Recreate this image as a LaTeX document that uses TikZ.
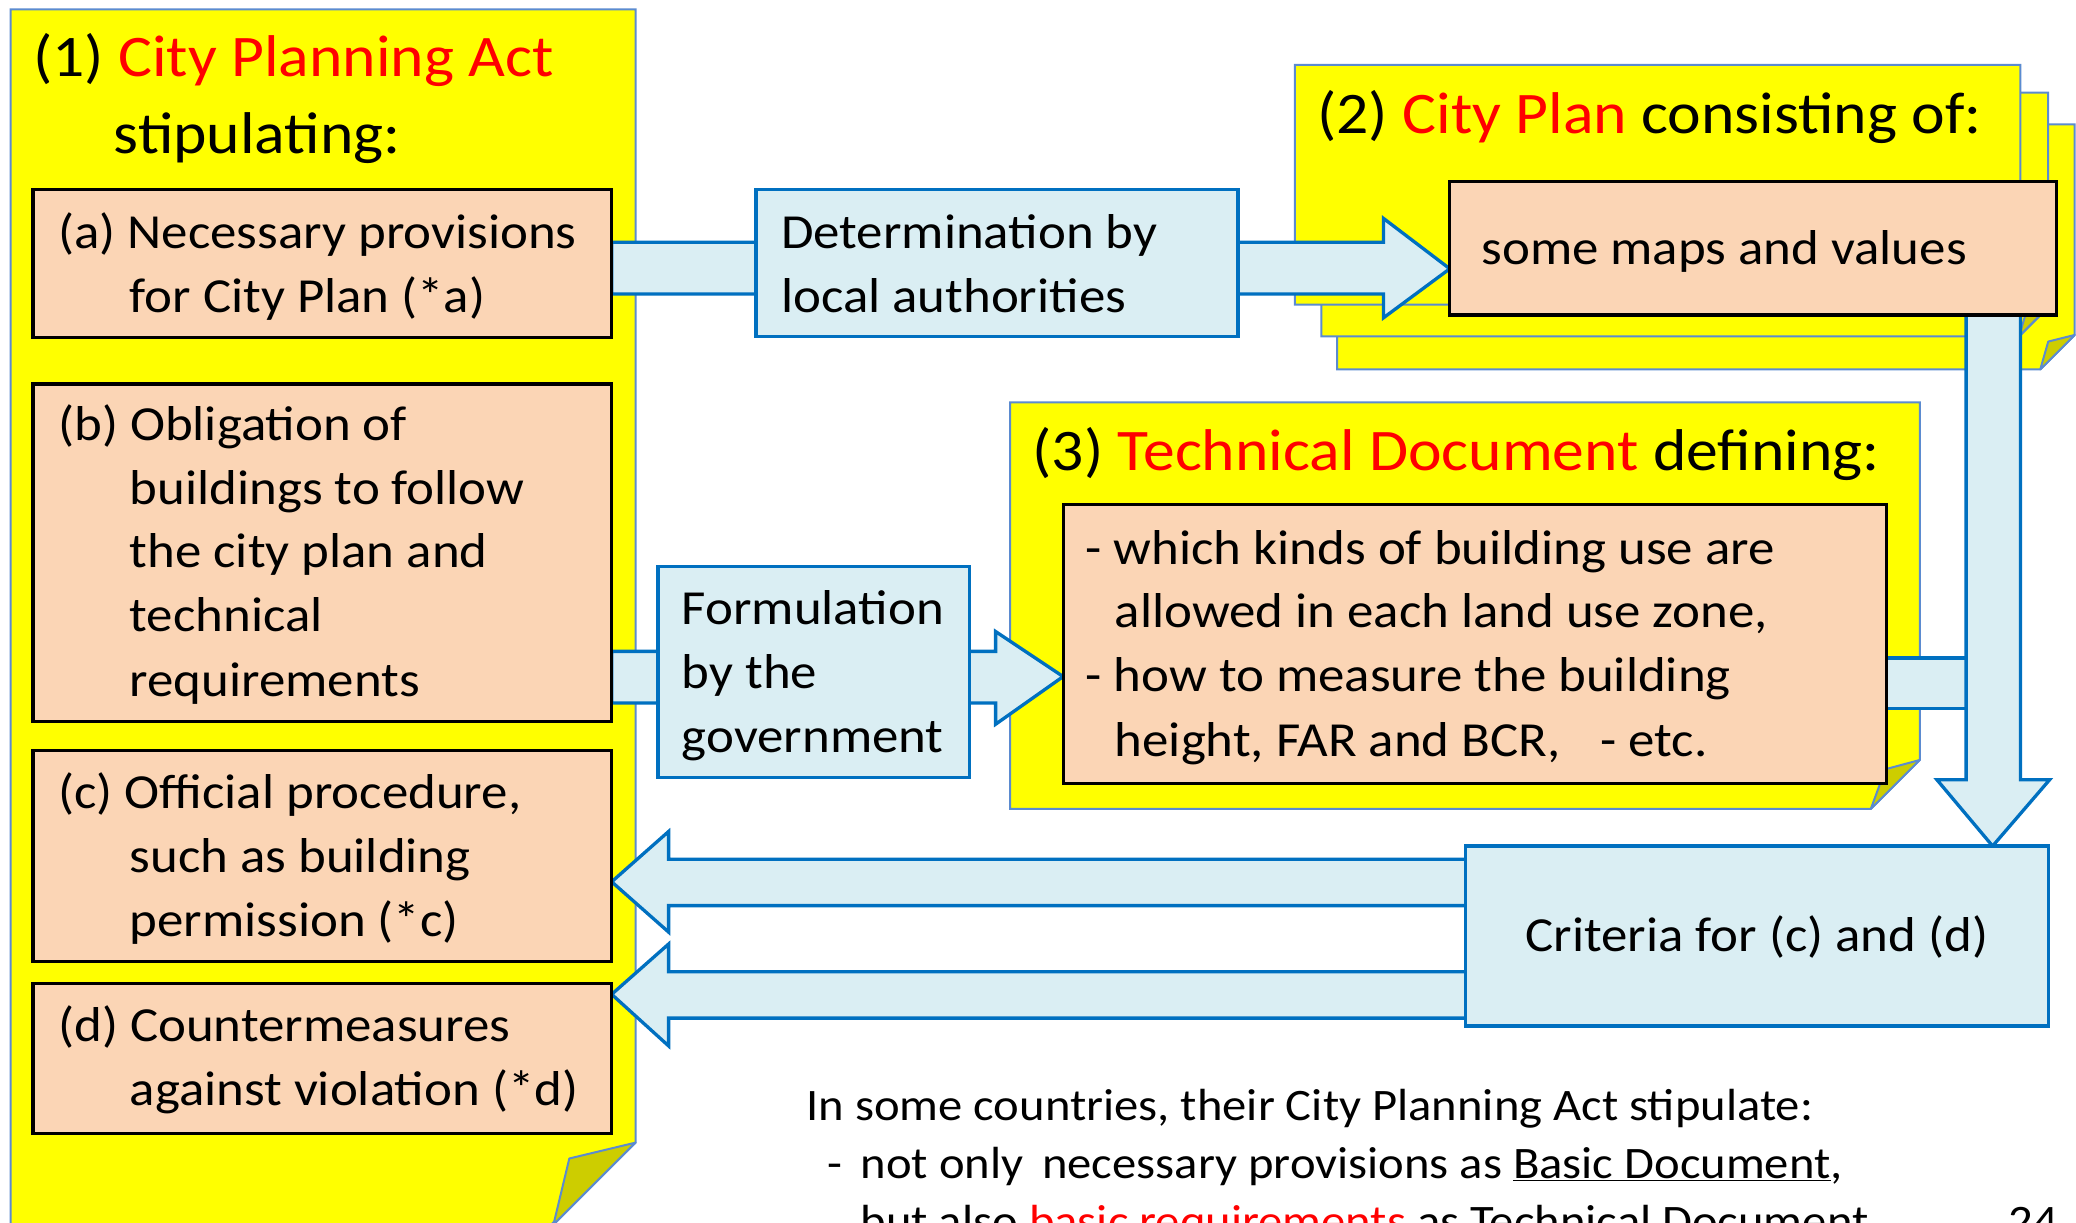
\documentclass[tikz,border=0pt]{standalone}
\usepackage{fontspec}
\setmainfont{Carlito}[FakeStretch=1.08]
\usetikzlibrary{calc}
\definecolor{ylw}{HTML}{FFFF00}
\definecolor{ylwedge}{HTML}{5B8BD0}
\definecolor{foldc}{HTML}{CDCD00}
\definecolor{peach}{HTML}{FBD5B5}
\definecolor{lblue}{HTML}{DAEEF3}
\definecolor{bblue}{HTML}{0070C0}
\definecolor{redt}{HTML}{FF0000}
\pgfdeclarelayer{bg}
\pgfsetlayers{bg,main}
\begin{document}
\begin{tikzpicture}[x=1pt,y=-1pt,
  panel/.style={fill=ylw, draw=ylwedge, line width=1.5pt, line join=miter},
  foldst/.style={fill=foldc, draw=ylwedge, line width=1.5pt, line join=round},
  pbox/.style={draw=black, fill=peach, line width=2.5pt, inner sep=0pt, outer sep=0pt},
  bbox/.style={draw=bblue, fill=lblue, line width=2.5pt, inner sep=0pt, outer sep=0pt},
  barrow/.style={fill=lblue, draw=bblue, line width=2.5pt, line join=miter},
  txt/.style={anchor=base west, inner sep=0pt, outer sep=0pt, font=\fontsize{37}{48}\selectfont},
  ttl/.style={txt, font=\fontsize{44.5}{57}\selectfont},
  smalltxt/.style={txt, font=\fontsize{34}{44}\selectfont}]
\useasboundingbox (0,0) rectangle (1568,923);
\clip (0,0) rectangle (1568,923);

% boxes
\node[pbox, minimum width=437pt, minimum height=112pt] (a) at (243.5,199) {};
\node[pbox, minimum width=437pt, minimum height=255pt] (b) at (243.5,417.5) {};
\node[pbox, minimum width=437pt, minimum height=159pt] (c) at (243.5,646.5) {};
\node[pbox, minimum width=437pt, minimum height=113pt] (d) at (243.5,799.5) {};
\node[bbox, minimum width=364pt, minimum height=111pt] (det) at (753,198.5) {};
\node[pbox, minimum width=458pt, minimum height=101pt] (maps) at (1324,187.5) {};
\node[pbox, minimum width=622pt, minimum height=211pt] (tech) at (1114,486.5) {};
\node[bbox, minimum width=235pt, minimum height=159pt] (form) at (614.5,507.5) {};
\node[bbox, minimum width=440pt, minimum height=136pt] (crit) at (1327,707) {};

\begin{pgfonlayer}{bg}
\fill[white] (0,0) rectangle (1568,923);
% panel (1)
\draw[panel] (8,7) -- (480,7) -- (480,863) -- (411,930) -- (8,930) -- cycle;
\draw[foldst] (480,863) -- (430,875) -- (418,925) -- cycle;
% panel (2) stack
\draw[panel] (1010,94) -- (1567,94) -- (1567,253) -- (1541,279) -- (1010,279) -- cycle;
\draw[foldst] (1567,253) -- (1547,258) -- (1541,279) -- cycle;
\draw[panel] (998,70) -- (1547,70) -- (1547,232) -- (1525,254) -- (998,254) -- cycle;
\draw[foldst] (1547,232) -- (1530,237) -- (1525,254) -- cycle;
\draw[panel] (978,49) -- (1526,49) -- (1526,208) -- (1504,230) -- (978,230) -- cycle;
% panel (3)
\draw[panel] (763,304) -- (1450,304) -- (1450,574) -- (1413,611) -- (763,611) -- cycle;
\draw[foldst] (1450,574) -- (1424,581) -- (1413,611) -- cycle;
% block arrows
\draw[barrow] (a.east |- 0,183) -- (1045,183) -- (1045,165) -- (maps.west |- 0,203)
  -- (1045,240) -- (1045,222) -- (a.east |- 0,222) -- cycle;
\draw[barrow] (b.east |- 0,492) -- (752,492) -- (752,477) -- (tech.west |- 0,511)
  -- (752,547) -- (752,531) -- (b.east |- 0,531) -- cycle;
\draw[barrow] (tech.east |- 0,497) -- (1490,497) -- (1490,535) -- (tech.east |- 0,535) -- cycle;
\draw[barrow] (1485,236) -- (1526,236) -- (1526,589) -- (1548,589) -- (crit.north -| 1505,0)
  -- (1463,589) -- (1485,589) -- cycle;
\draw[barrow] (crit.west |- 0,649) -- (505,649) -- (505,628) -- (c.east |- 0,666)
  -- (505,704) -- (505,684) -- (crit.west |- 0,684);
\draw[barrow] (crit.west |- 0,734) -- (505,734) -- (505,713) -- (d.east |- 0,751)
  -- (505,790) -- (505,769) -- (crit.west |- 0,769);
\end{pgfonlayer}

% titles
\node[ttl] (t1a) at (25,58) {(1) \textcolor{redt}{City Planning Act}};
\node[ttl] (t1b) at (86,116) {stipulating:};
\node[ttl] (t2) at (995,101) {(2) \textcolor{redt}{City Plan} consisting of:};
\node[ttl] (t3) at (780,355) {(3) \textcolor{redt}{Technical Document} defining:};

% (a)-(d)
\node[txt] (ta1) at (44,188) {(a) Necessary provisions};
\node[txt] (ta2) at (98,236) {for City Plan (*a)};
\node[txt] (tb1) at (44,333) {(b) Obligation of};
\node[txt] (tb2) at (98,381) {buildings to follow};
\node[txt] (tb3) at (98,429) {the city plan and};
\node[txt] (tb4) at (98,477) {technical};
\node[txt] (tb5) at (98,526) {requirements};
\node[txt] (tc1) at (44,611) {(c) Official procedure,};
\node[txt] (tc2) at (98,659) {such as building};
\node[txt] (tc3) at (98,707) {permission (*c)};
\node[txt] (td1) at (44,787) {(d) Countermeasures};
\node[txt] (td2) at (98,835) {against violation (*d)};

% blue boxes
\node[txt] (tdet1) at (590,188) {Determination by};
\node[txt] (tdet2) at (590,236) {local authorities};
\node[txt] (tf1) at (515,472) {Formulation};
\node[txt] (tf2) at (515,520) {by the};
\node[txt] (tf3) at (515,568) {government};
\node[txt, anchor=base] (tcrit) at (1327,719) {Criteria for (c) and (d)};

% peach right
\node[txt] (tmaps) at (1119,200) {some maps and values};
\node[txt] (tt1) at (820,426) {- which kinds of building use are};
\node[txt] (tt2) at (842,474) {allowed in each land use zone,};
\node[txt] (tt3) at (820,522) {- how to measure the building};
\node[txt] (tt4) at (842,571) {height, FAR and BCR,\hspace{30pt}- etc.};

% bottom note
\node[smalltxt] (n1) at (609,846) {In some countries, their City Planning Act stipulate:};
\node[smalltxt] (n2d) at (625,890) {-};
\node[smalltxt] (n2) at (650,890) {not only\hspace{6pt} necessary provisions as \underline{Basic Document},};
\node[smalltxt] (n3) at (650,934) {but also \textcolor{redt}{basic requirements} as Technical Document.};
\node[smalltxt] (pg) at (1517,934) {24};
\end{tikzpicture}
\end{document}
